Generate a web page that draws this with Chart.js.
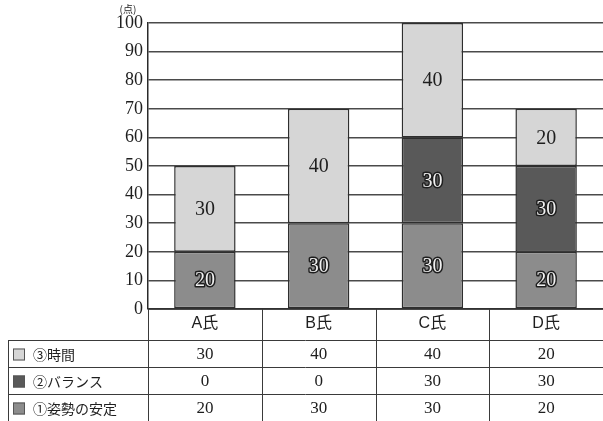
<!DOCTYPE html>
<html>
<head>
<meta charset="utf-8">
<script src="https://cdn.jsdelivr.net/npm/chart.js@4.4.1/dist/chart.umd.min.js"></script>
<style>
html, body { margin: 0; padding: 0; background: #fff; }
#wrap { width: 603px; height: 421px; }
</style>
</head>
<body>
<div id="wrap"><canvas id="chart" width="603" height="421"></canvas></div>
<script>
// data
var people = ['A氏', 'B氏', 'C氏', 'D氏'];
var posture = [20, 30, 30, 20];   // ①姿勢の安定
var balance = [0, 0, 30, 30];     // ②バランス
var timeScore = [30, 40, 40, 20]; // ③時間
var seriesNames = ['①姿勢の安定', '②バランス', '③時間'];
var seriesColors = ['#8c8c8c', '#595959', '#d6d6d6'];
var yMin = 0, yMax = 100, yStep = 10;
var unitLabel = '(点)';

var serif = '"Liberation Serif", "Times New Roman", serif';
var sans = '"Liberation Sans", "Noto Sans CJK JP", sans-serif';
var jp = '"Noto Sans CJK JP", sans-serif';

var seriesData = [posture, balance, timeScore];

var datasets = seriesData.map(function (d, i) {
    return {
        label: seriesNames[i],
        data: d,
        backgroundColor: seriesColors[i],
        borderColor: '#2e2e2e',
        borderWidth: 1.5,
        borderSkipped: false
    };
});

var extras = {
    id: 'extras',
    afterDatasetsDraw: function (chart) {
        var ctx = chart.ctx;
        ctx.save();
        ctx.font = '20px ' + serif;
        ctx.textAlign = 'center';
        ctx.textBaseline = 'middle';
        chart.data.datasets.forEach(function (ds, di) {
            var meta = chart.getDatasetMeta(di);
            meta.data.forEach(function (el, i) {
                var v = ds.data[i];
                if (!v) return;
                var y = (el.y + el.base) / 2 + 1;
                if (di === 2) {
                    ctx.fillStyle = '#1e1e1e';
                    ctx.fillText(String(v), el.x, y);
                } else {
                    ctx.lineWidth = 3;
                    ctx.strokeStyle = '#1e1e1e';
                    ctx.lineJoin = 'round';
                    ctx.strokeText(String(v), el.x, y);
                    ctx.fillStyle = '#f0f0f0';
                    ctx.fillText(String(v), el.x, y);
                }
            });
        });
        ctx.restore();
    },
    afterDraw: function (chart) {
        var ctx = chart.ctx;
        var area = chart.chartArea;
        var xs = chart.scales.x;
        var left = area.left, right = chart.width;
        var y0 = area.bottom;
        var headH = 31, rowH = 27, tableLeft = 8;
        var rowsTop = y0 + headH;
        var n = people.length;
        var centers = people.map(function (p, i) { return xs.getPixelForValue(i); });
        var half = (centers[1] - centers[0]) / 2;

        ctx.save();
        // axis line at 0
        ctx.strokeStyle = '#2a2a2a';
        ctx.lineWidth = 1.5;
        ctx.beginPath();
        ctx.moveTo(left, y0);
        ctx.lineTo(right, y0);
        ctx.stroke();

        // table lines
        ctx.lineWidth = 1;
        ctx.strokeStyle = '#3a3a3a';
        ctx.beginPath();
        for (var r = 0; r < 4; r++) {
            var yy = rowsTop + r * rowH + 0.5;
            ctx.moveTo(tableLeft, yy);
            ctx.lineTo(right, yy);
        }
        ctx.moveTo(tableLeft + 0.5, rowsTop);
        ctx.lineTo(tableLeft + 0.5, rowsTop + 3 * rowH);
        ctx.moveTo(left + 0.5, y0);
        ctx.lineTo(left + 0.5, rowsTop + 3 * rowH);
        for (var i = 1; i < n; i++) {
            var bx = Math.round(centers[i] - half) + 0.5;
            ctx.moveTo(bx, y0);
            ctx.lineTo(bx, rowsTop + 3 * rowH);
        }
        ctx.stroke();

        // header: category labels
        ctx.fillStyle = '#1e1e1e';
        ctx.textAlign = 'center';
        ctx.textBaseline = 'middle';
        ctx.font = '16px ' + sans;
        people.forEach(function (p, i) {
            ctx.fillText(p, centers[i], y0 + headH / 2 - 1);
        });

        // rows: ③, ②, ① from top to bottom
        for (var r2 = 0; r2 < 3; r2++) {
            var si = 2 - r2;
            var cy = rowsTop + r2 * rowH + rowH / 2 + 1;
            ctx.fillStyle = seriesColors[si];
            ctx.fillRect(13, cy - 6, 12, 12);
            ctx.strokeStyle = '#555';
            ctx.lineWidth = 1;
            ctx.strokeRect(13.5, cy - 5.5, 11, 11);
            ctx.fillStyle = '#1e1e1e';
            ctx.textAlign = 'left';
            ctx.font = '14px ' + jp;
            ctx.fillText(seriesNames[si], 33, cy);
            ctx.textAlign = 'center';
            ctx.font = '17px ' + serif;
            seriesData[si].forEach(function (v, i) {
                ctx.fillText(String(v), centers[i], cy);
            });
        }

        // unit label
        ctx.font = '10px ' + jp;
        ctx.textAlign = 'center';
        ctx.fillStyle = '#1e1e1e';
        ctx.fillText(unitLabel, 128, 9);
        ctx.restore();
    }
};

new Chart(document.getElementById('chart'), {
    type: 'bar',
    data: { labels: people, datasets: datasets },
    options: {
        responsive: false,
        animation: false,
        devicePixelRatio: 1,
        layout: { padding: { top: 23, bottom: 112, left: 0, right: 0 } },
        plugins: { legend: { display: false }, tooltip: { enabled: false } },
        datasets: { bar: { categoryPercentage: 1, barPercentage: 0.54 } },
        scales: {
            x: { stacked: true, display: false },
            y: {
                stacked: true,
                min: yMin,
                max: yMax,
                afterFit: function (s) { s.width = 148; },
                ticks: {
                    stepSize: yStep,
                    padding: 5,
                    color: '#1e1e1e',
                    font: { family: serif, size: 18 }
                },
                grid: { color: '#4a4a4a', lineWidth: 1.5, drawTicks: false },
                border: { display: true, color: '#2a2a2a', width: 1.5 }
            }
        }
    },
    plugins: [extras]
});
</script>
</body>
</html>
